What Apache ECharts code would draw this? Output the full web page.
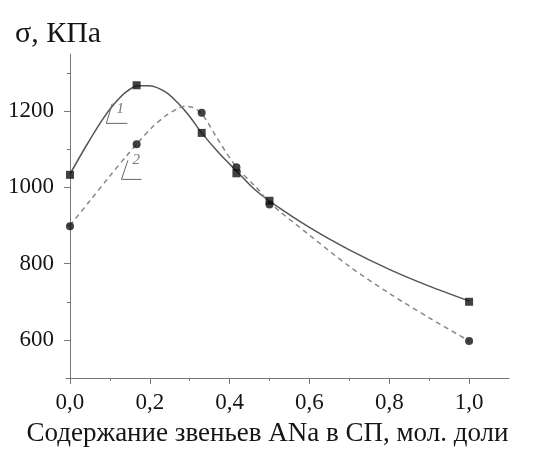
<!DOCTYPE html>
<html><head><meta charset="utf-8">
<script src="https://cdn.jsdelivr.net/npm/echarts@6/dist/echarts.min.js"></script>
<style>html,body{margin:0;padding:0;background:#fff}#c{width:535px;height:450px}</style>
</head><body><div id="c"></div>
<script>
// ---- data ----
const xMajor = [0, 0.2, 0.4, 0.6, 0.8, 1.0];
const xMinor = [0.1, 0.3, 0.5, 0.7, 0.9];
const yMajor = [600, 800, 1000, 1200];
const yMinor = [700, 900, 1100, 1300];

// measured points
const pointX = [0, 0.167, 0.33, 0.417, 0.5, 1.0];
const series1Y = [1033, 1268, 1143, 1037, 965, 700];   // squares, curve 1
const series2Y = [898, 1113, 1196, 1053, 955, 597];    // circles, curve 2

// fitted curves
const curve1X = [0, 0.04, 0.08, 0.11, 0.14, 0.17, 0.2, 0.24, 0.27, 0.3, 0.33, 0.375, 0.42, 0.46, 0.5, 0.6, 0.7, 0.8, 0.9, 1.0];
const curve1Y = [1035, 1108, 1176, 1218, 1250, 1267, 1267, 1250, 1222, 1186, 1143, 1088, 1040, 997, 964, 895, 836, 785, 741, 702];
const curve2X = [0, 0.05, 0.1, 0.141, 0.175, 0.208, 0.24, 0.27, 0.29, 0.31, 0.327, 0.342, 0.367, 0.417, 0.467, 0.5, 0.6, 0.7, 0.8, 0.9, 1.0];
const curve2Y = [900, 965, 1030, 1082, 1123, 1160, 1188, 1207, 1213, 1209, 1196, 1176, 1132, 1053, 1000, 960, 875, 793, 722, 658, 597];

// curve labels and their leader lines
const curveLabels = ['1', '2'];
const labelPos = [[0.126, 1206], [0.166, 1072]];
const leader1 = [[0.106, 1220], [0.091, 1168], [0.144, 1168]];
const leader2 = [[0.145, 1071], [0.129, 1021], [0.179, 1021]];

const yTitle = 'σ, КПа';
const xTitle = 'Содержание звеньев ANa в СП, мол. доли';

// ---- chart ----
const FONT = '"Liberation Serif", "Times New Roman", serif';
const AX = '#777';
const TXT = '#151515';
const zip = (xs, ys) => xs.map((x, i) => [x, ys[i]]);

const chart = echarts.init(document.getElementById('c'), null, {renderer: 'canvas'});
chart.setOption({
  animation: false,
  backgroundColor: '#fff',
  title: {
    text: yTitle, left: 10, top: 14,
    textStyle: {fontFamily: FONT, fontSize: 30, fontWeight: 'normal', color: TXT}
  },
  grid: {left: 66, right: 26, top: 54, bottom: 72, containLabel: false, outerBoundsMode: 'none'},
  xAxis: [{
    type: 'value', min: -0.01, max: 1.1, position: 'bottom',
    axisLine: {show: true, lineStyle: {color: AX, width: 1}},
    axisTick: {show: true, length: 6, customValues: xMajor, lineStyle: {color: AX}},
    axisLabel: {customValues: xMajor, formatter: v => v.toFixed(1).replace('.', ','),
      fontFamily: FONT, fontSize: 23, color: TXT, margin: 13},
    splitLine: {show: false},
    name: xTitle, nameLocation: 'middle', nameGap: 42,
    nameTextStyle: {fontFamily: FONT, fontSize: 27, color: TXT, padding: [0, 40, 0, 0]}
  }, {
    type: 'value', min: -0.01, max: 1.1, position: 'bottom',
    axisLine: {show: false},
    axisTick: {show: true, length: 3, customValues: xMinor, lineStyle: {color: AX}},
    axisLabel: {show: false}, splitLine: {show: false}
  }],
  yAxis: [{
    type: 'value', min: 500, max: 1350, position: 'left',
    axisLine: {show: true, lineStyle: {color: AX, width: 1}},
    axisTick: {show: true, length: 6, customValues: yMajor, lineStyle: {color: AX}},
    axisLabel: {customValues: yMajor, formatter: v => String(v),
      fontFamily: FONT, fontSize: 23, color: TXT, margin: 12},
    splitLine: {show: false}
  }, {
    type: 'value', min: 500, max: 1350, position: 'left',
    axisLine: {show: false},
    axisTick: {show: true, length: 3, customValues: yMinor, lineStyle: {color: AX}},
    axisLabel: {show: false}, splitLine: {show: false}
  }],
  series: [
    {type: 'line', name: 'fit1', data: zip(curve1X, curve1Y), smooth: 0.3, showSymbol: false, symbol: 'none',
      lineStyle: {color: '#555', width: 1.5, type: 'solid'}, silent: true, z: 2},
    {type: 'line', name: 'fit2', data: zip(curve2X, curve2Y), smooth: 0.3, showSymbol: false, symbol: 'none',
      lineStyle: {color: '#888', width: 1.5, type: [5, 4]}, silent: true, z: 2},
    {type: 'scatter', name: '1', data: zip(pointX, series1Y), symbol: 'rect', symbolSize: 8,
      itemStyle: {color: '#111'}, z: 5},
    {type: 'scatter', name: '2', data: zip(pointX, series2Y), symbol: 'circle', symbolSize: 8,
      itemStyle: {color: '#111'}, z: 5},
    {type: 'line', data: leader1, symbol: 'none', lineStyle: {color: '#666', width: 1}, silent: true},
    {type: 'line', data: leader2, symbol: 'none', lineStyle: {color: '#666', width: 1}, silent: true},
    {type: 'scatter', data: labelPos.map((p, i) => ({value: p, name: curveLabels[i]})),
      symbolSize: 1, itemStyle: {color: 'rgba(0,0,0,0)'}, silent: true,
      label: {show: true, position: 'inside', formatter: '{b}', fontFamily: FONT, fontStyle: 'italic',
        fontSize: 15, color: '#555'}}
  ]
});
</script></body></html>
